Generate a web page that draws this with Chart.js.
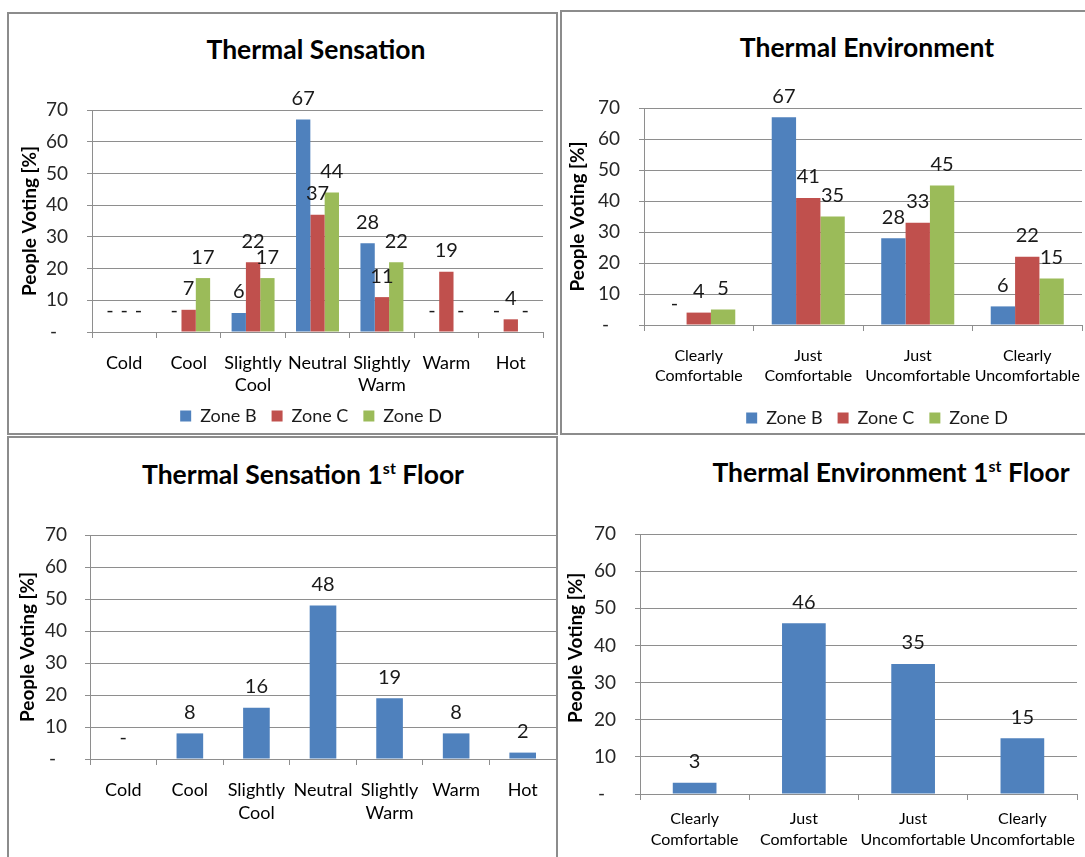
<!DOCTYPE html>
<html>
<head>
<meta charset="utf-8">
<title>Thermal comfort survey</title>
<script src="https://cdn.jsdelivr.net/npm/chart.js@4.4.1/dist/chart.umd.min.js"></script>
<style>
  html, body { margin: 0; padding: 0; }
  body { width: 1085px; height: 857px; position: relative; overflow: hidden; background: #fff; font-family: Lato, "Open Sans", sans-serif; }
  .frame { position: absolute; box-sizing: border-box; border: 2px solid #8c8c8c; }
  .heading { position: absolute; width: 600px; text-align: center; font-weight: 700; font-size: 26.5px; line-height: 30px; color: #000; white-space: nowrap; }
  .heading sup { font-size: 16px; line-height: 0; vertical-align: 10px; }
  canvas { position: absolute; }
</style>
</head>
<body>
<div class="frame" style="left:7px;top:12px;width:551px;height:423px"></div>
<div class="frame" style="left:560px;top:10px;width:640px;height:425px"></div>
<div class="frame" style="left:7px;top:436px;width:551px;height:440px"></div>

<div class="heading" style="left:16px;top:34px">Thermal Sensation</div>
<div class="heading" style="left:567px;top:32px">Thermal Environment</div>
<div class="heading" style="left:3px;top:459px">Thermal Sensation 1<sup>st</sup> Floor</div>
<div class="heading" style="left:591px;top:457px">Thermal Environment 1<sup>st</sup> Floor</div>

<canvas id="sensation" width="604" height="421" style="left:9px;top:14px"></canvas>
<canvas id="environment" width="630" height="425" style="left:562px;top:12px"></canvas>
<canvas id="sensationFloor" width="548" height="419" style="left:9px;top:438px"></canvas>
<canvas id="environmentFloor" width="527" height="421" style="left:558px;top:436px"></canvas>

<script>
// Vote categories
const sensationCategories = ['Cold', 'Cool', ['Slightly', 'Cool'], 'Neutral', ['Slightly', 'Warm'], 'Warm', 'Hot'];
const environmentCategories = [['Clearly', 'Comfortable'], ['Just', 'Comfortable'], ['Just', 'Uncomfortable'], ['Clearly', 'Uncomfortable']];
const zoneNames = ['Zone B', 'Zone C', 'Zone D'];

// Share of people voting [%] per zone
const sensationZoneB = [0, 0, 6, 67, 28, 0, 0];
const sensationZoneC = [0, 7, 22, 37, 11, 19, 4];
const sensationZoneD = [0, 17, 17, 44, 22, 0, 0];
const environmentZoneB = [0, 67, 28, 6];
const environmentZoneC = [4, 41, 33, 22];
const environmentZoneD = [5, 35, 45, 15];

// Share of people voting [%] on the first floor
const sensationFirstFloor = [0, 8, 16, 48, 19, 8, 2];
const environmentFirstFloor = [3, 46, 35, 15];

// Value axis ticks
const yTickValues = [0, 10, 20, 30, 40, 50, 60, 70];

const FONT = 'Lato, "Open Sans", sans-serif';
const GRID = '#8e8e8e';
const ZONE_COLORS = ['#4F81BD', '#C0504D', '#9BBB59'];
const AXIS_TITLE = 'People Voting [%]';

// Writes each bar's value above it; zero shows as a dash
const valueLabels = {
  id: 'valueLabels',
  afterDatasetsDraw(chart) {
    const ctx = chart.ctx;
    ctx.save();
    ctx.font = '20px ' + FONT;
    ctx.fillStyle = '#1a1a1a';
    ctx.textAlign = 'center';
    ctx.textBaseline = 'middle';
    chart.data.datasets.forEach((ds, i) => {
      const meta = chart.getDatasetMeta(i);
      meta.data.forEach((bar, j) => {
        const v = ds.data[j];
        ctx.fillText(v === 0 ? '-' : String(v), bar.x, bar.y - 21);
      });
    });
    ctx.restore();
  }
};

function buildChart(id, labels, datasets, g) {
  const scales = {
    x: {
      offset: true,
      grid: { display: true, offset: true, drawOnChartArea: false, drawTicks: true, tickLength: 6, color: GRID },
      border: { display: true, color: GRID, width: 1 },
      ticks: {
        color: '#000',
        font: { family: FONT, size: g.xFont, lineHeight: g.xLine / g.xFont },
        padding: g.xTickPad,
        maxRotation: 0, minRotation: 0, autoSkip: false
      },
      afterFit(s) { s.height = g.xHeight; s.paddingLeft = 0; s.paddingRight = 0; }
    },
    y: {
      min: 0, max: 70,
      afterBuildTicks(s) { s.ticks = yTickValues.map(v => ({ value: v })); },
      grid: { color: GRID, lineWidth: 1, drawTicks: true, tickLength: 5 },
      border: { display: true, color: GRID, width: 1 },
      ticks: {
        color: '#262626',
        font: { family: FONT, size: 19 },
        padding: g.yTickPad,
        callback: v => (v === 0 ? '-\u2007' : String(v))
      },
      title: {
        display: true,
        // leading blanks lift the rotated title towards the top of the axis
        text: ' '.repeat(g.titleLift || 0) + AXIS_TITLE,
        color: '#000',
        font: { family: FONT, size: 19, weight: 'bold' },
        padding: { top: g.yTitlePad, bottom: 0 }
      },
      afterFit(s) { s.width = g.yWidth; }
    }
  };
  if (g.rightGap) {
    // empty right-hand box that keeps the plot clear of the legend's span
    scales.gap = {
      type: 'linear', position: 'right', display: true,
      grid: { display: false, drawTicks: false },
      border: { display: false },
      ticks: { display: false },
      afterFit(s) { s.width = g.rightGap; }
    };
  }
  return new Chart(document.getElementById(id), {
    type: 'bar',
    data: { labels, datasets },
    options: {
      responsive: false,
      animation: false,
      devicePixelRatio: 1,
      layout: { padding: { left: 0, top: g.top, right: g.right || 0, bottom: 0 } },
      scales,
      plugins: {
        tooltip: { enabled: false },
        legend: {
          display: !!g.legend,
          position: 'bottom',
          labels: { boxWidth: 11, boxHeight: 11, padding: 15, color: '#1a1a1a', font: { family: FONT, size: 18 } }
        }
      }
    },
    plugins: [valueLabels]
  });
}

function zoneSets(series, catPct) {
  return series.map((data, i) => ({
    label: zoneNames[i],
    data,
    backgroundColor: ZONE_COLORS[i],
    borderWidth: 0,
    categoryPercentage: catPct,
    barPercentage: 1
  }));
}

function draw() {
  buildChart('sensation', sensationCategories,
    zoneSets([sensationZoneB, sensationZoneC, sensationZoneD], 0.667),
    { top: 96, yWidth: 83, xHeight: 60, rightGap: 70, yTitlePad: 9, yTickPad: 19, xTickPad: 14, xFont: 18, xLine: 22, legend: true });

  buildChart('environment', environmentCategories,
    zoneSets([environmentZoneB, environmentZoneC, environmentZoneD], 0.667),
    { top: 96, yWidth: 82, xHeight: 69, rightGap: 110, yTitlePad: 4, yTickPad: 19, xTickPad: 15, xFont: 16, xLine: 20, legend: true });

  buildChart('sensationFloor', sensationCategories,
    [{ label: '1st Floor', data: sensationFirstFloor, backgroundColor: ZONE_COLORS[0], borderWidth: 0, categoryPercentage: 0.4, barPercentage: 1 }],
    { top: 97, right: 1, yWidth: 81, xHeight: 98, yTitlePad: 7, yTickPad: 18, xTickPad: 14, xFont: 18, xLine: 23, legend: false });

  buildChart('environmentFloor', environmentCategories,
    [{ label: '1st Floor', data: environmentFirstFloor, backgroundColor: ZONE_COLORS[0], borderWidth: 0, categoryPercentage: 0.4, barPercentage: 1 }],
    { top: 98, right: 8, yWidth: 82, xHeight: 63, yTitlePad: 6, yTickPad: 19, xTickPad: 8, xFont: 16, xLine: 21, legend: false, titleLift: 7 });
}

if (document.fonts && document.fonts.load) {
  Promise.all([document.fonts.load('18px Lato'), document.fonts.load('bold 18px Lato')]).then(draw, draw);
} else {
  draw();
}
</script>
</body>
</html>
